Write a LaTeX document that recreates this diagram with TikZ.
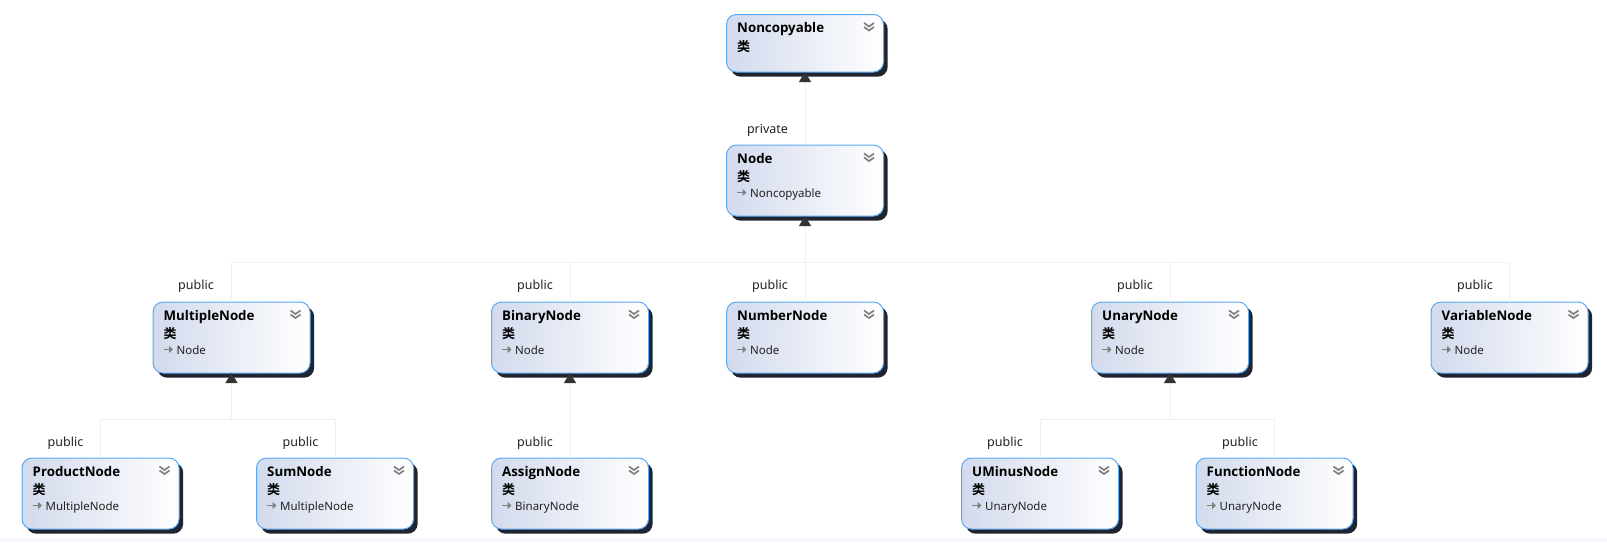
\documentclass[tikz,border=0pt]{standalone}
\usepackage{fontspec}
\setmainfont{Noto Sans}
\newfontfamily\titlefont{Open Sans}
\newfontfamily\cjkfont{Noto Sans CJK SC}[BoldFont={* Bold}]
\usetikzlibrary{arrows.meta,positioning,calc}
\definecolor{boxborder}{HTML}{5AA9F5}
\definecolor{boxleft}{HTML}{D2DAEC}
\definecolor{boxshadow}{HTML}{1F2530}
\definecolor{wire}{HTML}{F1F1F1}
\definecolor{tipcol}{HTML}{333333}
\definecolor{txtcol}{HTML}{222222}
\definecolor{chev}{HTML}{808080}
\tikzset{
  x=1pt,y=-1pt,
  classbox/.style={rounded corners=10pt,draw=boxborder,line width=1pt,left color=boxleft,right color=white,minimum width=157pt,minimum height=#1,inner sep=0pt,outer sep=0pt,anchor=north west},
  shadowbox/.style={rounded corners=10pt,fill=boxshadow,minimum width=157pt,minimum height=#1,inner sep=0pt,anchor=north west},
  titletext/.style={font=\fontsize{13.3}{14}\titlefont\bfseries,text=black,anchor=west,inner sep=0pt,text height=10pt,text depth=3pt},
  kindtext/.style={font=\fontsize{13}{14}\cjkfont\bfseries,text=black,anchor=west,inner sep=0pt},
  basetext/.style={font=\fontsize{11.5}{14}\selectfont,text=txtcol,anchor=west,inner sep=0pt,text height=9pt,text depth=3pt},
  acctext/.style={font=\fontsize{12.5}{14}\selectfont,text=txtcol,inner sep=0pt,text height=10pt,text depth=3pt},
  wireline/.style={draw=wire,line width=1pt},
  inherit/.style={wireline,-{Triangle[length=10pt,width=12pt,color=tipcol]}},
  chevron/.style={draw=chev,line width=1.7pt},
  baseicon/.style={draw=chev,line width=1.6pt,-{Triangle[length=4pt,width=7pt]}},
}
% #1 name, #2 left, #3 top, #4 height, #5 title, #6 base or empty
\newcommand{\classnode}[6]{%
  \node[shadowbox=#4 pt] (#1s) at (#2+4,#3+4.5) {};
  \node[classbox=#4 pt] (#1) at (#2,#3) {};
  \node[titletext] (#1t) at (#2+10.5,#3+14.5) {#5};
  \node[kindtext] (#1k) at (#2+10.5,#3+32) {类};
  \draw[chevron] (#2+137.5,#3+8.5) -- (#2+142.5,#3+12) -- (#2+147.5,#3+8.5);
  \draw[chevron] (#2+137.5,#3+12.5) -- (#2+142.5,#3+16) -- (#2+147.5,#3+12.5);
  \if\relax\detokenize{#6}\relax\else
    \node[basetext] (#1b) at (#2+23.5,#3+49.5) {#6};
    \draw[baseicon] (#2+10.5,#3+47.5) -- (#2+20,#3+47.5);
  \fi
}
\begin{document}
\begin{tikzpicture}
\useasboundingbox (0,0) rectangle (1607,542);
\fill[fill={rgb,255:red,246;green,247;blue,252}] (0,538) rectangle (1607,542);

\classnode{noncopyable}{726.5}{14.5}{57.5}{Noncopyable}{}
\classnode{node}{726.5}{145}{71}{Node}{Noncopyable}
\classnode{multiple}{153}{302}{71}{MultipleNode}{Node}
\classnode{binary}{491.5}{302}{71}{BinaryNode}{Node}
\classnode{number}{726.5}{302}{71}{NumberNode}{Node}
\classnode{unary}{1091.5}{302}{71}{UnaryNode}{Node}
\classnode{variable}{1431}{302}{71}{VariableNode}{Node}
\classnode{product}{22}{458}{71}{ProductNode}{MultipleNode}
\classnode{sum}{256.5}{458}{71}{SumNode}{MultipleNode}
\classnode{assign}{491.5}{458}{71}{AssignNode}{BinaryNode}
\classnode{uminus}{961.5}{458}{71}{UMinusNode}{UnaryNode}
\classnode{function}{1196}{458}{71}{FunctionNode}{UnaryNode}

\coordinate (busa) at (805,262.5);
\coordinate (busb) at (231.5,419.5);
\coordinate (busc) at (1170,419.5);

\draw[inherit] (node.north) -- (noncopyable.south);
\draw[inherit] (number.north) -- (node.south);
\draw[wireline] (multiple.north) |- (busa);
\draw[wireline] (binary.north) |- (busa);
\draw[wireline] (unary.north) |- (busa);
\draw[wireline] (variable.north) |- (busa);
\draw[inherit] (sum.north) |- (busb) -- (multiple.south);
\draw[wireline] (product.north) |- (busb);
\draw[inherit] (assign.north) -- (binary.south);
\draw[inherit] (function.north) |- (busc) -- (unary.south);
\draw[wireline] (uminus.north) |- (busc);

\node[acctext] (lnode) at (767.5,129.5) {private};
\node[acctext] (lmul) at (196,286) {public};
\node[acctext] (lbin) at (535,286) {public};
\node[acctext] (lnum) at (770,286) {public};
\node[acctext] (luna) at (1135,286) {public};
\node[acctext] (lvar) at (1475,286) {public};
\node[acctext] (lpro) at (65.5,442.5) {public};
\node[acctext] (lsum) at (300.5,442.5) {public};
\node[acctext] (lass) at (535,442.5) {public};
\node[acctext] (lumi) at (1005,442.5) {public};
\node[acctext] (lfun) at (1240,442.5) {public};
\end{tikzpicture}
\end{document}
